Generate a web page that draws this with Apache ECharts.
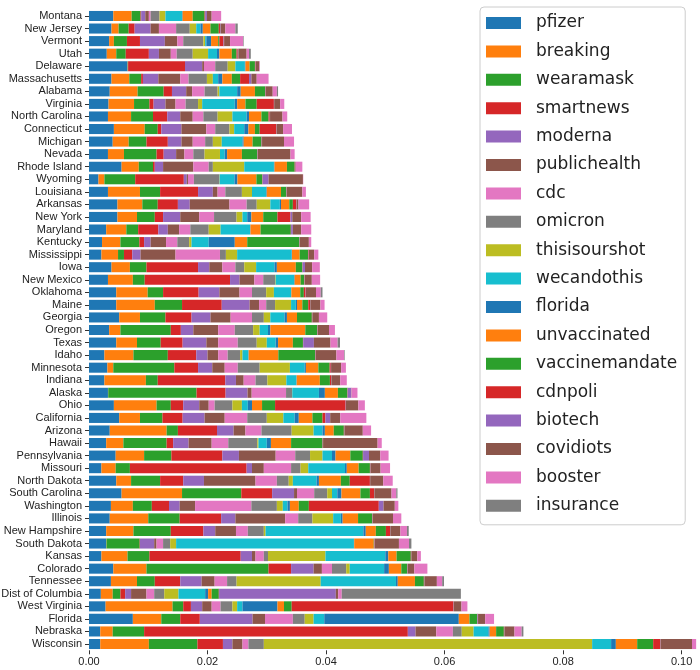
<!DOCTYPE html>
<html>
<head>
<meta charset="utf-8">
<script src="https://cdn.jsdelivr.net/npm/echarts@6/dist/echarts.min.js"></script>
<style>
  html, body { margin: 0; padding: 0; background: #fff; }
  #chart { width: 700px; height: 670px; }
</style>
</head>
<body>
<div id="chart"></div>
<script>
// states, top to bottom
const states = ['Montana', 'New Jersey', 'Vermont', 'Utah', 'Delaware', 'Massachusetts', 'Alabama', 'Virginia',
  'North Carolina', 'Connecticut', 'Michigan', 'Nevada', 'Rhode Island', 'Wyoming', 'Louisiana', 'Arkansas',
  'New York', 'Maryland', 'Kentucky', 'Mississippi', 'Iowa', 'New Mexico', 'Oklahoma', 'Maine', 'Georgia',
  'Oregon', 'Texas', 'Idaho', 'Minnesota', 'Indiana', 'Alaska', 'Ohio', 'California', 'Arizona', 'Hawaii',
  'Pennsylvania', 'Missouri', 'North Dakota', 'South Carolina', 'Washington', 'Illinois', 'New Hampshire',
  'South Dakota', 'Kansas', 'Colorado', 'Tennessee', 'Dist of Columbia', 'West Virginia', 'Florida',
  'Nebraska', 'Wisconsin'];

// one array per hashtag, same order as states
const pfizer = [0.0041,0.0038,0.0034,0.0030,0.0065,0.0038,0.0035,0.0033,0.0032,0.0042,0.0040,0.0032,0.0055,0.0016,0.0032,0.0048,0.0048,0.0029,0.0022,0.0021,0.0038,0.0032,0.0046,0.0046,0.0051,0.0034,0.0046,0.0026,0.0031,0.0026,0.0032,0.0042,0.0051,0.0035,0.0029,0.0045,0.0021,0.0046,0.0055,0.0037,0.0035,0.0029,0.0029,0.0021,0.0041,0.0037,0.0020,0.0028,0.0074,0.0019,0.0019];
const breaking = [0.0031,0.0012,0.0008,0.0016,0.00005,0.0030,0.0047,0.0043,0.0039,0.0052,0.0027,0.0027,0.0029,0.0010,0.0054,0.0042,0.0033,0.0034,0.0031,0.0028,0.0031,0.0042,0.0053,0.0065,0.0035,0.0019,0.0035,0.0049,0.0010,0.0070,0.00005,0.0072,0.0035,0.0096,0.0029,0.0048,0.0024,0.0025,0.0102,0.0037,0.0065,0.0046,0.00005,0.0044,0.0056,0.0044,0.0020,0.0113,0.0048,0.0021,0.0082];
const wearamask = [0.0015,0.0017,0.0022,0.0016,0.00005,0.0020,0.0044,0.0026,0.0037,0.0022,0.0030,0.0055,0.0024,0.0052,0.0034,0.0026,0.0030,0.0020,0.0032,0.0010,0.0028,0.0020,0.0026,0.0046,0.0043,0.0085,0.0040,0.0058,0.0103,0.0020,0.0149,0.0024,0.0038,0.0019,0.0073,0.0046,0.0024,0.0049,0.0100,0.0032,0.0053,0.0063,0.0056,0.0037,0.0206,0.0030,0.0013,0.0018,0.0032,0.0053,0.0082];
const smartnews = [0.0001,0.0010,0.0022,0.0039,0.0096,0.0003,0.0014,0.0007,0.0024,0.0006,0.0036,0.0012,0.0003,0.0082,0.0064,0.0034,0.0014,0.0034,0.0008,0.0014,0.0087,0.0144,0.0060,0.0067,0.0044,0.0017,0.0037,0.0048,0.0040,0.0114,0.0049,0.0021,0.0034,0.0066,0.0011,0.0086,0.0197,0.0039,0.0052,0.0029,0.0070,0.0055,0.00005,0.0154,0.0038,0.0043,0.0008,0.0013,0.0033,0.0445,0.0043];
const moderna = [0.0007,0.0027,0.0042,0.0017,0.0029,0.0026,0.0024,0.0020,0.0022,0.0034,0.0023,0.0021,0.0014,0.0005,0.0025,0.0020,0.0029,0.0016,0.0011,0.0014,0.0019,0.0016,0.0035,0.0047,0.0032,0.0021,0.0040,0.0019,0.0024,0.0018,0.0037,0.0027,0.0037,0.0028,0.0026,0.0028,0.0009,0.0035,0.0037,0.0018,0.0024,0.0020,0.0024,0.0019,0.0038,0.0036,0.0010,0.0019,0.0089,0.0013,0.0016];
const publichealth = [0.0006,0.0014,0.0021,0.0020,0.0003,0.0037,0.0010,0.0017,0.0021,0.0042,0.0019,0.0014,0.0051,0.0002,0.0008,0.0067,0.0032,0.0019,0.0026,0.0059,0.0022,0.0025,0.0034,0.0016,0.0034,0.0042,0.0020,0.0018,0.0021,0.0013,0.0007,0.0016,0.0034,0.0020,0.0039,0.0062,0.0020,0.0087,0.0005,0.0026,0.0084,0.0035,0.0004,0.0006,0.0014,0.0022,0.0026,0.0016,0.0021,0.0035,0.0017];
const cdc = [0.0003,0.0029,0.0010,0.0010,0.0019,0.0014,0.0021,0.0017,0.0018,0.0015,0.0021,0.0015,0.0026,0.0010,0.0013,0.0029,0.0025,0.0019,0.0019,0.0075,0.0022,0.0015,0.0021,0.0012,0.0036,0.0028,0.0033,0.0016,0.0022,0.0020,0.0058,0.0010,0.0038,0.0027,0.0028,0.0033,0.0046,0.0036,0.0029,0.0095,0.0022,0.0020,0.0011,0.0014,0.0017,0.0021,0.0013,0.0015,0.0047,0.0028,0.0010];
const omicron = [0.0015,0.0023,0.0034,0.0027,0.0021,0.0031,0.0022,0.0021,0.0024,0.0024,0.0013,0.0019,0.0007,0.0043,0.0028,0.0017,0.0038,0.0031,0.0020,0.0010,0.0015,0.0020,0.0024,0.0015,0.0020,0.0031,0.0032,0.0021,0.0037,0.0020,0.0010,0.0030,0.0033,0.0051,0.0049,0.0025,0.0016,0.0020,0.0022,0.0043,0.0024,0.0027,0.0012,0.0007,0.0024,0.0016,0.0017,0.0020,0.0020,0.0015,0.0026];
const thisisourshot = [0.0010,0.0011,0.0003,0.0026,0.0013,0.0010,0.0003,0.0007,0.0025,0.0008,0.0015,0.0026,0.0053,0.00005,0.0017,0.0023,0.0010,0.0020,0.0004,0.0019,0.0020,0.0001,0.0013,0.0027,0.0011,0.0011,0.0017,0.0004,0.0051,0.0032,0.00005,0.0016,0.0028,0.0037,0.0002,0.0021,0.0013,0.0007,0.0008,0.0010,0.0035,0.0003,0.0010,0.0097,0.0006,0.0142,0.0024,0.0008,0.0015,0.0020,0.0554];
const wecandothis = [0.0028,0.0007,0.0002,0.0015,0.0016,0.0009,0.0030,0.0055,0.0024,0.0017,0.0035,0.0008,0.0050,0.0025,0.0024,0.0016,0.0008,0.0050,0.0029,0.0092,0.0031,0.0031,0.0029,0.0008,0.0024,0.0014,0.0015,0.0010,0.0025,0.0017,0.0045,0.0010,0.0019,0.0015,0.0014,0.0016,0.0062,0.0040,0.0009,0.0008,0.0013,0.0165,0.0300,0.0101,0.0058,0.0127,0.0045,0.0009,0.0018,0.0025,0.0032];
const florida = [0.0001,0.0004,0.0008,0.0004,0.0001,0.0007,0.0006,0.0004,0.0004,0.0007,0.0002,0.0004,0.0001,0.0005,0.0001,0.0002,0.0007,0.00005,0.0044,0.00005,0.0004,0.0001,0.00005,0.0002,0.0004,0.0004,0.0004,0.00005,0.0002,0.00005,0.0010,0.0007,0.0007,0.0004,0.0007,0.0006,0.0003,0.0004,0.0007,0.0004,0.0003,0.0004,0.00005,0.0005,0.0008,0.0003,0.0005,0.0059,0.0227,0.0002,0.0008];
const unvaccinated = [0.0017,0.0013,0.0012,0.0021,0.0007,0.0016,0.0024,0.0014,0.0021,0.0011,0.0015,0.0025,0.0021,0.0032,0.0024,0.0014,0.0020,0.0017,0.0021,0.0013,0.0032,0.0010,0.0015,0.0009,0.0017,0.0059,0.0025,0.0050,0.0021,0.0039,0.0022,0.0017,0.0023,0.0015,0.0034,0.0025,0.0020,0.0037,0.0032,0.0015,0.0026,0.0017,0.0033,0.0014,0.0021,0.0029,0.0006,0.0011,0.0018,0.0011,0.0036];
const vaccinemandate = [0.0020,0.0014,0.0002,0.0008,0.0009,0.0014,0.0017,0.0019,0.0012,0.0008,0.0015,0.0026,0.0013,0.0010,0.0009,0.0006,0.0024,0.0051,0.0088,0.0014,0.0011,0.0006,0.0006,0.0010,0.0025,0.0020,0.0017,0.0062,0.0019,0.0017,0.0016,0.0022,0.0017,0.0017,0.0053,0.0021,0.0019,0.0015,0.0016,0.0017,0.0024,0.0017,0.00005,0.0024,0.0010,0.0015,0.0012,0.0013,0.0013,0.0013,0.0027];
const cdnpoli = [0.0001,0.0002,0.0007,0.0002,0.0001,0.0015,0.00005,0.0029,0.0002,0.0028,0.00005,0.00005,0.00005,0.00005,0.00005,0.0006,0.0022,0.00005,0.00005,0.0001,0.00005,0.00005,0.0003,0.0003,0.00005,0.00005,0.00005,0.00005,0.0002,0.0002,0.00005,0.0119,0.0005,0.00005,0.00005,0.00005,0.00005,0.0034,0.0007,0.0118,0.00005,0.0007,0.00005,0.00005,0.00005,0.00005,0.00005,0.0273,0.00005,0.00005,0.0012];
const biotech = [0.0003,0.0001,0.0001,0.0001,0.00005,0.0004,0.00005,0.00005,0.00005,0.00005,0.00005,0.00005,0.00005,0.0010,0.00005,0.00005,0.0003,0.0003,0.00005,0.00005,0.0004,0.00005,0.00005,0.00005,0.00005,0.00005,0.0018,0.00005,0.00005,0.00005,0.0006,0.00005,0.0008,0.00005,0.00005,0.0010,0.00005,0.00005,0.00005,0.0008,0.00005,0.00005,0.00005,0.00005,0.00005,0.00005,0.0197,0.00005,0.0001,0.00005,0.00005];
const covidiots = [0.0008,0.0008,0.0010,0.0014,0.0006,0.0009,0.0012,0.0010,0.0021,0.0011,0.0037,0.0055,0.0001,0.0058,0.0026,0.0003,0.0015,0.0014,0.0015,0.0009,0.0012,0.0012,0.0017,0.0017,0.0011,0.0019,0.0028,0.0035,0.0017,0.0015,0.00005,0.0021,0.0017,0.0031,0.0092,0.0019,0.0017,0.0022,0.0029,0.0019,0.0034,0.0017,0.0041,0.0010,0.0011,0.0021,0.0004,0.0013,0.0012,0.0017,0.0053];
const booster = [0.0016,0.0017,0.0022,0.0004,0.0001,0.0020,0.0007,0.0007,0.0008,0.0015,0.0017,0.0007,0.0011,0.00005,0.0006,0.0018,0.0016,0.0017,0.0004,0.0007,0.0013,0.0014,0.0008,0.0007,0.0014,0.0010,0.0012,0.0013,0.0008,0.0011,0.0010,0.0011,0.0044,0.0014,0.0007,0.0014,0.0016,0.0016,0.0008,0.0006,0.0014,0.0011,0.0017,0.0006,0.0022,0.0009,0.0006,0.0010,0.0015,0.0012,0.0007];
const insurance = [0,0.0004,0.0001,0.0003,0,0,0.0002,0,0,0,0,0,0,0,0,0,0,0,0,0,0,0,0.0003,0,0,0,0.0004,0.0001,0,0,0,0,0,0,0,0,0,0,0.0002,0,0,0.0003,0.0004,0,0,0.0003,0.0201,0,0,0.0003,0];

const tags = {
  pfizer, breaking, wearamask, smartnews, moderna, publichealth, cdc, omicron, thisisourshot,
  wecandothis, florida, unvaccinated, vaccinemandate, cdnpoli, biotech, covidiots, booster, insurance,
};
const xTicks = [0, 0.02, 0.04, 0.06, 0.08, 0.10];

// matplotlib tab10, cycled
const TAB10 = ['#1f77b4', '#ff7f0e', '#2ca02c', '#d62728', '#9467bd', '#8c564b', '#e377c2', '#7f7f7f', '#bcbd22', '#17becf'];
const LABEL_FONT = '"Liberation Sans", sans-serif';

const chart = echarts.init(document.getElementById('chart'), null, { renderer: 'canvas' });

chart.setOption({
  animation: false,
  color: TAB10,
  grid: { left: 89, width: 611, top: 9.7, height: 640.6, containLabel: false, outerBoundsMode: 'none' },
  xAxis: {
    type: 'value', min: 0, max: 0.1031,
    axisLine: { show: false },
    splitLine: { show: false },
    axisTick: { show: true, length: 4, customValues: xTicks, lineStyle: { color: '#333' } },
    axisLabel: {
      customValues: xTicks, margin: 6,
      color: '#222', fontSize: 11, fontFamily: LABEL_FONT,
      formatter: (v) => v.toFixed(2),
    },
  },
  yAxis: {
    type: 'category', data: states, inverse: true,
    axisLine: { show: false },
    axisTick: { show: true, length: 4, alignWithLabel: true, lineStyle: { color: '#333' } },
    axisLabel: { interval: 0, margin: 7, color: '#222', fontSize: 11, fontFamily: LABEL_FONT },
  },
  legend: {
    orient: 'vertical', left: 480, top: 7,
    icon: 'rect', itemWidth: 35, itemHeight: 12, itemGap: 8.4,
    padding: [6, 8, 9, 6],
    backgroundColor: 'rgba(255,255,255,0.85)',
    borderColor: '#cccccc', borderWidth: 1, borderRadius: 4,
    textStyle: { fontSize: 17, fontFamily: 'DejaVu Sans', color: '#222', lineHeight: 20, padding: [0, 0, 0, 10] },
  },
  series: Object.entries(tags).map(([name, values]) => ({
    name, type: 'bar', stack: 'total',
    barCategoryGap: '20%',
    data: values,
  })),
});
</script>
</body>
</html>
